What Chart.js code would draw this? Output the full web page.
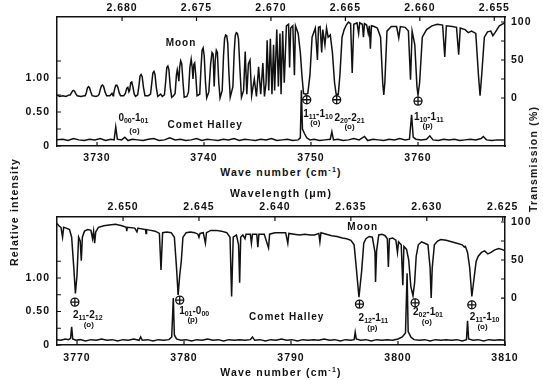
<!DOCTYPE html>
<html>
<head>
<meta charset="utf-8">
<script src="https://cdn.jsdelivr.net/npm/chart.js@4.4.0/dist/chart.umd.min.js"></script>
<style>
  body { margin: 0; background: #fff; width: 543px; height: 380px; position: relative; overflow: hidden;
         font-family: 'Liberation Sans', Arial, sans-serif; }
  canvas { position: absolute; left: 0; }
  .t { position: absolute; font-weight: bold; font-size: 10.5px; letter-spacing: 1.2px; color: #111;
       white-space: nowrap; transform: translate(-50%, -50%); }
  .t sup { font-size: 7px; }
  .rot { transform: translate(-50%, -50%) rotate(-90deg); }
</style>
</head>
<body>
<canvas id="topChart" width="543" height="165" style="top:0"></canvas>
<canvas id="botChart" width="543" height="185" style="top:195px"></canvas>
<div class="t" style="left:281px;top:172px">Wave number (cm<sup>-1</sup>)</div>
<div class="t" style="left:281px;top:193px">Wavelength (&mu;m)</div>
<div class="t" style="left:281px;top:372px">Wave number (cm<sup>-1</sup>)</div>
<div class="t rot" style="left:14px;top:212px">Relative intensity</div>
<div class="t rot" style="left:533px;top:159px">Transmission (%)</div>
<script>
// axis ranges and ticks
const topWaveRange = [3726.26, 3768.13];
const botWaveRange = [3768.13, 3810.0];
const topWaveTicks = [3730, 3740, 3750, 3760];
const botWaveTicks = [3770, 3780, 3790, 3800, 3810];
const topLambdaRange = [2.65428, 2.68437];
const botLambdaRange = [2.62485, 2.65435];
const topLambdaTicks = [2.680, 2.675, 2.670, 2.665, 2.660, 2.655];
const botLambdaTicks = [2.650, 2.645, 2.640, 2.635, 2.630, 2.625];
const relTicks = [0, 0.25, 0.5, 0.75, 1.0, 1.25];
const transTicks = [0, 25, 50, 75, 100];

// Moon transmission (%), [wave number, value]
const moonTop = [[3726.26,4],[3726.5,2],[3726.8,3],[3727.1,2],[3727.4,4],
  [3727.5,4],[3727.62,7],[3727.72,9.5],[3727.8,10],[3727.9,9],[3728.0,6],[3728.15,3],[3728.5,2],[3728.8,3],
  [3728.9,3],[3729.0,7],[3729.1,13],[3729.2,15],[3729.3,13.5],[3729.42,8],[3729.55,3],[3729.9,2],[3730.1,3],
  [3730.2,5],[3730.32,12],[3730.42,16],[3730.52,17],[3730.62,15],[3730.75,8],[3730.9,3],[3731.2,3],[3731.4,6],[3731.5,3],
  [3731.55,5],[3731.65,12],[3731.75,16.5],[3731.85,17],[3731.95,14],[3732.07,7],[3732.2,3],[3732.5,3],
  [3732.65,6],[3732.78,13],[3732.88,14],[3732.98,8],[3733.05,10],[3733.15,20],[3733.25,21],[3733.35,15],[3733.48,5],[3733.6,2],
  [3733.8,4],[3733.92,16],[3734.02,29],[3734.12,31],[3734.22,28],[3734.34,14],[3734.48,3],[3734.8,3],
  [3735.0,5],[3735.12,20],[3735.22,33],[3735.32,35],[3735.42,31],[3735.54,14],[3735.68,2],[3735.95,5],[3736.1,2],
  [3736.3,4],[3736.42,22],[3736.52,40],[3736.62,42],[3736.72,37],[3736.84,15],[3736.98,1],[3737.15,3],
  [3737.3,6],[3737.42,30],[3737.5,37],[3737.58,30],[3737.65,22],[3737.72,40],[3737.82,49],[3737.92,45],[3738.04,20],[3738.15,1],[3738.4,2],
  [3738.55,8],[3738.68,40],[3738.8,51],[3738.9,40],[3738.97,25],[3739.05,44],[3739.13,46],[3739.23,30],[3739.35,3],
  [3739.6,5],[3739.72,40],[3739.82,63],[3739.92,66],[3740.02,55],[3740.14,20],[3740.25,0],
  [3740.45,8],[3740.62,45],[3740.75,60],[3740.85,58],[3740.95,15],[3741.05,50],[3741.15,63],[3741.25,60],[3741.38,20],[3741.5,0],
  [3741.7,10],[3741.82,55],[3741.92,78],[3742.02,83],[3742.12,82],[3742.22,72],[3742.32,35],[3742.45,1],
  [3742.7,15],[3742.82,60],[3742.92,82],[3743.02,86],[3743.12,85],[3743.22,78],[3743.35,40],[3743.5,1],
  [3743.7,10],[3743.85,61],[3744.0,5],[3744.15,45],[3744.3,50],[3744.45,3],[3744.7,25],[3744.9,2],[3745.1,41],[3745.3,5],[3745.5,46],[3745.65,2],
  [3745.8,20],[3745.9,76],[3746.05,10],[3746.2,78],[3746.35,5],[3746.5,70],[3746.6,10],[3746.8,90],[3746.95,15],[3747.1,85],[3747.2,5],[3747.35,88],[3747.5,20],
  [3747.7,95],[3747.9,97],[3748.0,40],[3748.1,92],[3748.3,95],[3748.45,30],[3748.55,95],[3748.8,85],[3749.0,60],[3749.15,30],[3749.3,6],[3749.5,5],[3749.7,6],[3749.9,30],
  [3750.1,80],[3750.4,92],[3750.6,50],[3750.7,93],[3750.85,94],[3751.0,60],[3751.1,90],[3751.3,70],[3751.45,92],[3751.6,80],[3751.8,83],[3752.0,60],[3752.2,20],[3752.35,5],[3752.55,5],[3752.7,30],
  [3752.9,80],[3753.1,90],[3753.3,96],[3753.5,100],[3753.7,98],[3753.85,33],[3754.0,97],[3754.3,99],[3754.45,85],[3754.55,99],[3754.8,97],[3754.9,80],[3755.0,98],[3755.2,96],[3755.35,85],[3755.45,95],[3755.55,65],[3755.65,95],
  [3755.9,94],[3756.2,92],[3756.5,80],[3756.7,20],[3756.8,4],[3756.9,20],[3757.1,88],[3757.5,94],[3758.0,94],[3758.2,79],[3758.35,94],[3758.8,93],[3759.1,88],[3759.3,24],[3759.45,88],[3759.7,70],[3759.9,15],[3760.0,4],[3760.15,20],
  [3760.4,80],[3760.8,90],[3761.3,95],[3761.8,97],[3762.3,96],[3762.5,54],[3762.65,95],[3763.2,94],[3763.6,93],[3763.8,57],[3763.95,92],[3764.4,90],[3764.7,86],[3765.0,88],[3765.4,85],[3765.65,30],[3765.8,3],[3765.95,30],
  [3766.2,80],[3766.5,87],[3766.8,88],[3767.0,82],[3767.2,86],[3767.6,95],[3768.13,99]];

const moonBot = [[3768.13,98],[3768.3,95],[3768.5,93],[3768.65,80],[3768.75,93],[3769.0,92],[3769.3,90],[3769.5,80],[3769.7,40],[3769.85,6],[3770.0,30],[3770.15,80],[3770.3,75],[3770.4,49],[3770.5,80],[3770.7,88],[3771.0,90],[3771.3,89],[3771.45,78],[3771.55,88],[3771.65,72],[3771.75,87],[3772.0,93],[3772.5,95],[3773.0,96],[3773.6,97],[3774.2,95],[3774.6,93],[3774.65,88],[3774.7,93],[3775.4,92],[3775.6,87],[3775.7,92],[3776.0,91],[3776.4,90],[3776.45,85],[3776.5,90],[3776.9,89],[3777.3,88],[3777.7,85],[3777.85,37],[3778.0,86],[3778.4,87],[3778.8,86],[3779.1,80],[3779.3,40],[3779.45,4],[3779.6,30],[3779.75,49],[3779.9,80],[3780.2,86],[3780.6,87],[3781.0,86],[3781.3,84],[3781.4,80],[3781.5,85],[3781.8,86],[3782.0,72],[3782.1,86],[3782.5,89],[3783.0,89],[3783.5,88],[3784.0,86],[3784.3,80],[3784.45,2],[3784.6,80],[3784.9,83],[3785.1,70],[3785.2,20],[3785.3,80],[3785.5,83],[3785.7,78],[3785.8,84],[3786.2,84],[3786.3,72],[3786.4,84],[3786.8,84],[3786.9,67],[3787.0,84],[3787.5,84],[3787.9,66],[3788.0,84],[3788.5,86],[3789.0,86],[3789.5,86],[3789.7,72],[3789.8,85],[3790.3,84],[3790.8,83],[3791.3,84],[3791.8,83],[3792.2,83],[3792.6,85],[3792.7,74],[3792.8,86],[3793.3,84],[3793.8,82],[3794.3,81],[3794.8,79],[3795.2,78],[3795.6,76],[3795.9,70],[3796.1,40],[3796.35,1],[3796.6,35],[3796.8,72],[3797.0,78],[3797.3,81],[3797.6,80],[3797.85,60],[3797.9,21],[3798.0,62],[3798.2,83],[3798.5,84],[3798.8,82],[3799.0,78],[3799.1,41],[3799.2,78],[3799.5,79],[3799.8,76],[3799.95,60],[3800.05,74],[3800.3,70],[3800.45,17],[3800.55,68],[3800.8,64],[3801.0,50],[3801.2,15],[3801.4,3],[3801.55,20],[3801.7,55],[3801.9,70],[3802.2,74],[3802.5,72],[3802.8,70],[3803.0,40],[3803.1,0],[3803.2,40],[3803.4,70],[3803.7,75],[3804.0,77],[3804.5,76],[3805.0,74],[3805.5,72],[3806.0,70],[3806.2,67],[3806.3,68],[3806.5,60],[3806.7,40],[3806.9,2],[3807.1,25],[3807.3,48],[3807.5,55],[3807.8,60],[3808.1,62],[3808.4,58],[3808.7,60],[3809.0,63],[3809.4,65],[3809.7,64],[3810.0,62]];

// Comet Halley relative intensity, [wave number, value]
const cometTop = [[3726.26,0.09],[3726.8,0.10],[3727.3,0.08],[3727.8,0.11],[3728.3,0.09],[3728.8,0.08],[3729.3,0.10],[3729.8,0.09],[3730.3,0.11],[3730.8,0.08],[3731.3,0.10],[3731.6,0.09],[3731.75,0.28],[3731.9,0.10],[3732.3,0.09],[3732.6,0.13],[3732.9,0.08],[3733.3,0.10],[3733.8,0.09],[3734.3,0.08],[3734.8,0.10],[3735.3,0.11],[3735.8,0.08],[3736.3,0.09],[3736.8,0.12],[3737.3,0.09],[3737.8,0.10],[3738.3,0.08],[3738.8,0.09],[3739.3,0.11],[3739.8,0.08],[3740.3,0.10],[3740.8,0.09],[3741.3,0.08],[3741.8,0.10],[3742.3,0.09],[3742.8,0.11],[3743.3,0.08],[3743.8,0.10],[3744.3,0.09],[3744.8,0.08],[3745.3,0.10],[3745.8,0.09],[3746.3,0.11],[3746.8,0.08],[3747.3,0.09],[3747.8,0.10],[3748.3,0.08],[3748.8,0.09],[3749.0,0.12],[3749.1,0.82],[3749.2,0.25],[3749.4,0.18],[3749.6,0.12],[3749.9,0.09],[3750.3,0.10],[3750.8,0.08],[3751.3,0.09],[3751.8,0.10],[3751.95,0.21],[3752.1,0.09],[3752.5,0.10],[3753.0,0.08],[3753.5,0.09],[3754.0,0.11],[3754.5,0.09],[3755.0,0.14],[3755.3,0.08],[3755.8,0.10],[3756.3,0.09],[3756.8,0.08],[3757.3,0.10],[3757.8,0.09],[3758.3,0.11],[3758.8,0.09],[3759.2,0.10],[3759.4,0.46],[3759.55,0.13],[3759.8,0.10],[3760.3,0.09],[3760.8,0.10],[3761.1,0.15],[3761.4,0.09],[3761.9,0.08],[3762.4,0.10],[3762.9,0.09],[3763.4,0.10],[3763.9,0.08],[3764.4,0.09],[3764.9,0.10],[3765.4,0.09],[3765.9,0.11],[3766.1,0.14],[3766.4,0.09],[3766.9,0.08],[3767.4,0.09],[3768.13,0.09]];

const cometBot = [[3768.13,0.08],[3768.5,0.07],[3768.9,0.09],[3769.2,0.08],[3769.4,0.10],[3769.5,0.27],[3769.6,0.09],[3769.9,0.07],[3770.3,0.08],[3770.8,0.06],[3771.3,0.08],[3771.8,0.07],[3772.3,0.09],[3772.8,0.07],[3773.3,0.08],[3773.8,0.06],[3774.3,0.08],[3774.8,0.07],[3775.3,0.09],[3775.8,0.07],[3775.95,0.12],[3776.1,0.07],[3776.6,0.08],[3777.1,0.06],[3777.6,0.08],[3778.1,0.07],[3778.6,0.08],[3778.85,0.12],[3779.0,0.70],[3779.1,0.15],[3779.3,0.09],[3779.7,0.07],[3780.2,0.08],[3780.7,0.06],[3781.2,0.08],[3781.7,0.07],[3782.2,0.09],[3782.7,0.07],[3783.2,0.08],[3783.7,0.06],[3784.2,0.08],[3784.7,0.07],[3785.2,0.08],[3785.7,0.07],[3786.2,0.08],[3786.4,0.12],[3786.6,0.07],[3787.1,0.08],[3787.6,0.06],[3788.1,0.08],[3788.6,0.07],[3789.1,0.09],[3789.6,0.07],[3790.1,0.08],[3790.6,0.06],[3791.1,0.08],[3791.6,0.07],[3792.1,0.08],[3792.6,0.07],[3793.1,0.09],[3793.6,0.07],[3794.1,0.08],[3794.6,0.06],[3795.1,0.08],[3795.6,0.07],[3795.9,0.08],[3796.0,0.19],[3796.1,0.09],[3796.5,0.07],[3797.0,0.08],[3797.5,0.06],[3798.0,0.08],[3798.5,0.07],[3799.0,0.08],[3799.5,0.07],[3800.0,0.09],[3800.4,0.12],[3800.7,0.18],[3800.85,1.07],[3800.95,0.20],[3801.2,0.12],[3801.5,0.08],[3802.0,0.07],[3802.5,0.08],[3803.0,0.06],[3803.5,0.08],[3804.0,0.07],[3804.5,0.08],[3805.0,0.07],[3805.5,0.08],[3806.0,0.06],[3806.4,0.08],[3806.5,0.36],[3806.6,0.09],[3807.0,0.07],[3807.5,0.08],[3808.0,0.06],[3808.5,0.08],[3809.0,0.07],[3809.5,0.08],[3810.0,0.07]];

// annotations: [wave number, relative intensity]
const topNotes = [
  { kind: 'text', x: 3737.85, y: 1.51, text: 'Moon' },
  { kind: 'text', x: 3740.1, y: 0.31, text: 'Comet Halley' },
  { kind: 'level', x: 3733.4, y: 0.41, text: '0_00-1_01' },
  { kind: 'small', x: 3733.5, y: 0.22, text: '(o)' },
  { kind: 'mark', x: 3749.6, y: 0.68 },
  { kind: 'mark', x: 3752.4, y: 0.68 },
  { kind: 'mark', x: 3760.0, y: 0.66 },
  { kind: 'level', x: 3750.65, y: 0.47, text: '1_11-1_10' },
  { kind: 'small', x: 3750.4, y: 0.34, text: '(o)' },
  { kind: 'level', x: 3753.6, y: 0.41, text: '2_20-2_21' },
  { kind: 'small', x: 3753.6, y: 0.28, text: '(o)' },
  { kind: 'level', x: 3761.0, y: 0.43, text: '1_10-1_11' },
  { kind: 'small', x: 3760.9, y: 0.29, text: '(p)' }
];
const botNotes = [
  { kind: 'text', x: 3796.7, y: 1.75, text: 'Moon' },
  { kind: 'text', x: 3789.6, y: 0.42, text: 'Comet Halley' },
  { kind: 'mark', x: 3769.8, y: 0.64 },
  { kind: 'mark', x: 3779.6, y: 0.67 },
  { kind: 'mark', x: 3796.4, y: 0.61 },
  { kind: 'mark', x: 3801.6, y: 0.63 },
  { kind: 'mark', x: 3806.9, y: 0.60 },
  { kind: 'level', x: 3771.0, y: 0.45, text: '2_11-2_12' },
  { kind: 'small', x: 3771.1, y: 0.30, text: '(o)' },
  { kind: 'level', x: 3780.95, y: 0.51, text: '1_01-0_00' },
  { kind: 'small', x: 3780.8, y: 0.37, text: '(p)' },
  { kind: 'level', x: 3797.7, y: 0.40, text: '2_12-1_11' },
  { kind: 'small', x: 3797.6, y: 0.25, text: '(p)' },
  { kind: 'level', x: 3802.8, y: 0.49, text: '2_02-1_01' },
  { kind: 'small', x: 3802.7, y: 0.34, text: '(o)' },
  { kind: 'level', x: 3808.1, y: 0.42, text: '2_11-1_10' },
  { kind: 'small', x: 3807.9, y: 0.27, text: '(o)' }
];

const INK = '#111';
const FONT = "'Liberation Sans', Arial, sans-serif";

function drawLevel(ctx, str, x, y) {
  // "N_MM-N_MM" -> digits with subscripts
  const parts = [];
  str.split('-').forEach((p, i) => {
    if (i > 0) parts.push({ t: '-', sub: false });
    const [a, b] = p.split('_');
    parts.push({ t: a, sub: false });
    if (b) parts.push({ t: b, sub: true });
  });
  const big = 'bold 10px ' + FONT, small = 'bold 7px ' + FONT;
  let w = 0;
  parts.forEach(p => { ctx.font = p.sub ? small : big; p.w = ctx.measureText(p.t).width; w += p.w; });
  let cx = x - w / 2;
  ctx.textAlign = 'left';
  ctx.textBaseline = 'middle';
  parts.forEach(p => {
    ctx.font = p.sub ? small : big;
    ctx.fillText(p.t, cx, p.sub ? y + 3 : y);
    cx += p.w;
  });
}

const notesPlugin = {
  id: 'notes',
  afterDatasetsDraw(chart, args, opts) {
    const ctx = chart.ctx, xs = chart.scales.x, ys = chart.scales.y;
    ctx.save();
    ctx.fillStyle = INK;
    ctx.strokeStyle = INK;
    (opts.items || []).forEach(n => {
      const px = xs.getPixelForValue(n.x), py = ys.getPixelForValue(n.y);
      if (n.kind === 'mark') {
        ctx.fillStyle = '#fff';
        ctx.lineWidth = 1.3;
        ctx.beginPath(); ctx.arc(px, py, 4, 0, Math.PI * 2); ctx.fill(); ctx.stroke();
        ctx.beginPath();
        ctx.moveTo(px - 4, py); ctx.lineTo(px + 4, py);
        ctx.moveTo(px, py - 4); ctx.lineTo(px, py + 4);
        ctx.stroke();
        ctx.fillStyle = INK;
      } else if (n.kind === 'level') {
        ctx.letterSpacing = '0px';
        drawLevel(ctx, n.text, px, py);
      } else {
        ctx.letterSpacing = n.kind === 'text' ? '1px' : '0px';
        ctx.font = n.kind === 'text' ? 'bold 10px ' + FONT : 'bold 8px ' + FONT;
        ctx.textAlign = 'center';
        ctx.textBaseline = 'middle';
        ctx.fillText(n.text, px, py);
      }
    });
    ctx.restore();
  }
};

// tick marks drawn inward, as in the figure
const innerTicks = {
  id: 'innerTicks',
  beforeDraw(chart) { chart.ctx.letterSpacing = '1px'; },
  afterDraw(chart) {
    const ctx = chart.ctx, a = chart.chartArea, L = 4;
    ctx.save();
    ctx.strokeStyle = INK;
    ctx.lineWidth = 1.2;
    ctx.beginPath();
    Object.values(chart.scales).forEach(s => {
      s.ticks.forEach(t => {
        const p = s.getPixelForValue(t.value);
        if (s.id === 'x') { ctx.moveTo(p, a.bottom); ctx.lineTo(p, a.bottom - L); }
        if (s.id === 'x2') { ctx.moveTo(p, a.top); ctx.lineTo(p, a.top + L); }
        if (s.id === 'y') { ctx.moveTo(a.left, p); ctx.lineTo(a.left + L, p); }
        if (s.id === 'y2') { ctx.moveTo(a.right, p); ctx.lineTo(a.right - L, p); }
      });
    });
    ctx.stroke();
    ctx.restore();
  }
};

function fixedTicks(values) {
  return scale => { scale.ticks = values.map(v => ({ value: v })); };
}

function axisStyle(size, pad, cb) {
  return {
    grid: { display: true, drawOnChartArea: false, drawTicks: false },
    border: { display: true, color: INK, width: 1.5 },
    ticks: { color: INK, padding: pad, autoSkip: false, maxRotation: 0, callback: cb,
             font: { family: FONT, size: size, weight: 'bold' } }
  };
}

function makePanel(id, cfg) {
  const xs = axisStyle(10.5, cfg.xPad, v => String(v));
  const x2s = axisStyle(10.5, cfg.x2Pad, v => v.toFixed(3));
  const ys = axisStyle(10.5, 7, v => (v === 0 ? '0' : v === 0.5 ? '0.50' : v === 1 ? '1.00' : ''));
  const y2s = axisStyle(10.5, 6, v => (v % 50 === 0 ? String(v) : ''));
  new Chart(document.getElementById(id), {
    type: 'line',
    data: {
      datasets: [
        { data: cfg.moon.map(([x, y]) => ({ x, y })), yAxisID: 'y2', xAxisID: 'x',
          borderColor: INK, borderWidth: 1.5, pointRadius: 0, tension: 0 },
        { data: cfg.comet.map(([x, y]) => ({ x, y })), yAxisID: 'y', xAxisID: 'x',
          borderColor: INK, borderWidth: 1.5, pointRadius: 0, tension: 0 }
      ]
    },
    options: {
      responsive: false,
      animation: false,
      devicePixelRatio: 1,
      layout: { padding: 0 },
      plugins: { legend: { display: false }, tooltip: { enabled: false }, notes: { items: cfg.notes } },
      scales: {
        x: Object.assign(xs, { type: 'linear', position: 'bottom', min: cfg.wave[0], max: cfg.wave[1],
          afterBuildTicks: fixedTicks(cfg.waveTicks), afterFit: s => { s.height = cfg.xH; } }),
        x2: Object.assign(x2s, { type: 'linear', position: 'top', reverse: true, min: cfg.lambda[0], max: cfg.lambda[1],
          afterBuildTicks: fixedTicks(cfg.lambdaTicks), afterFit: s => { s.height = cfg.x2H; } }),
        y: Object.assign(ys, { type: 'linear', position: 'left', min: 0, max: cfg.relMax,
          afterBuildTicks: fixedTicks(relTicks), afterFit: s => { s.width = 57; } }),
        y2: Object.assign(y2s, { type: 'linear', position: 'right', min: cfg.trans[0], max: cfg.trans[1],
          afterBuildTicks: fixedTicks(transTicks), afterFit: s => { s.width = 38; } })
      }
    },
    plugins: [notesPlugin, innerTicks]
  });
}

makePanel('topChart', {
  moon: moonTop, comet: cometTop, notes: topNotes,
  wave: topWaveRange, waveTicks: topWaveTicks, lambda: topLambdaRange, lambdaTicks: topLambdaTicks,
  relMax: 1.897, trans: [-63.2, 106.6], xH: 19, x2H: 17, xPad: 6, x2Pad: 3
});
makePanel('botChart', {
  moon: moonBot, comet: cometBot, notes: botNotes,
  wave: botWaveRange, waveTicks: botWaveTicks, lambda: botLambdaRange, lambdaTicks: botLambdaTicks,
  relMax: 1.91, trans: [-61.8, 106.6], xH: 35, x2H: 22, xPad: 7, x2Pad: 4
});
</script>
</body>
</html>
